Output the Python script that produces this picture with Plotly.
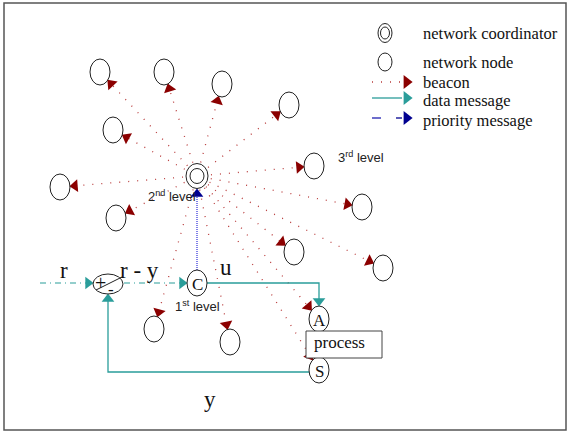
import numpy as np
import plotly.graph_objects as go

W, H = 568, 432

# ---- diagram data (pixel-like coordinates of the drawing) ----
coord_x, coord_y = 197, 176
node_x = [100, 164, 222, 289, 113, 60, 116, 314, 362, 294, 383, 154, 230]
node_y = [72, 72, 84, 105, 130, 187, 218, 166, 207, 252, 268, 329, 342]
ctrl_labels = ["C", "A", "S"]
ctrl_x = [197, 319, 319]
ctrl_y = [283, 319, 370]
junction_x, junction_y = 108, 284
process_box = [306, 331, 382, 358]
beacon_targets_x = node_x + ctrl_x[1:]
beacon_targets_y = node_y + ctrl_y[1:]

legend_labels = ["network coordinator", "network node", "beacon", "data message", "priority message"]
legend_y = [33, 62, 82, 100, 120]

level_labels = ["1<sup>st</sup> level", "2<sup>nd</sup> level", "3<sup>rd</sup> level"]
level_x = [173, 146, 336]
level_y = [306, 196, 157]

signal_labels = ["r", "r - y", "u", "y"]
signal_x = [64, 139, 226, 210]
signal_y = [270, 270, 267, 399]

# ---- styles ----
RED_LINE = "#b83a3a"
RED_HEAD = "#8b0000"
TEAL = "#2a9d9a"
BLUE_LINE = "#8080e8"
BLUE_HEAD = "#000090"
NODE_RX, NODE_RY = 10, 13
SERIF = "Liberation Serif"
SANS = "Liberation Sans"

fig = go.Figure()
shapes = []
annotations = []


def ellipse(cx, cy, rx, ry, color="#222", width=1):
    shapes.append(dict(type="circle", xref="x", yref="y", x0=cx - rx, x1=cx + rx,
                       y0=cy - ry, y1=cy + ry, line=dict(color=color, width=width),
                       fillcolor="rgba(0,0,0,0)"))


def head(tx, ty, ux, uy, color, size=11):
    ang = np.degrees(np.arctan2(uy, ux))
    cx, cy = tx - ux * size * 0.45, ty - uy * size * 0.45
    fig.add_trace(go.Scatter(x=[cx], y=[cy], mode="markers", hoverinfo="skip",
                             marker=dict(symbol="triangle-right", size=size, angle=ang,
                                         color=color, line=dict(width=0))))


def line(xs, ys, color, width=1, dash="solid"):
    fig.add_trace(go.Scatter(x=xs, y=ys, mode="lines", hoverinfo="skip",
                             line=dict(color=color, width=width, dash=dash)))


# beacon arrows from coordinator to every node
for tx0, ty0 in zip(beacon_targets_x, beacon_targets_y):
    dx, dy = tx0 - coord_x, ty0 - coord_y
    L = np.hypot(dx, dy)
    ux, uy = dx / L, dy / L
    t = 1 / np.sqrt((ux / NODE_RX) ** 2 + (uy / NODE_RY) ** 2)
    tx, ty = tx0 - ux * t, ty0 - uy * t
    sx, sy = coord_x + ux * 14, coord_y + uy * 14
    line([sx, tx], [sy, ty], RED_LINE, 1.3, "1px,8px")
    head(tx, ty, ux, uy, RED_HEAD)

# priority message (C -> coordinator)
line([ctrl_x[0], ctrl_x[0]], [ctrl_y[0] - NODE_RY, coord_y + 14], BLUE_LINE, 2, "1px,1px")
head(coord_x, coord_y + 13, 0, -1, BLUE_HEAD)

# data messages
line([ctrl_x[0] + NODE_RX, ctrl_x[1], ctrl_x[1]],
     [ctrl_y[0], ctrl_y[0], ctrl_y[1] - NODE_RY - 1], TEAL, 1.3)
head(ctrl_x[1], ctrl_y[1] - NODE_RY, 0, 1, TEAL)
line([ctrl_x[2] - NODE_RX, junction_x, junction_x],
     [ctrl_y[2] + 2, ctrl_y[2] + 2, junction_y + 11], TEAL, 1.3)
head(junction_x, junction_y + 10, 0, -1, TEAL)

# reference input and error (dash-dot)
line([40, junction_x - 16], [283, 283], TEAL, 1.2, "6px,4px,1px,4px")
head(junction_x - 15, 283, 1, 0, TEAL)
line([junction_x + 16, ctrl_x[0] - NODE_RX - 1], [283, 283], TEAL, 1.2, "6px,4px,1px,4px")
head(ctrl_x[0] - NODE_RX, 283, 1, 0, TEAL)

# nodes
for x, y in zip(node_x, node_y):
    ellipse(x, y, NODE_RX, NODE_RY)
ellipse(coord_x, coord_y, 11, 12.5)
ellipse(coord_x, coord_y, 7, 7.5)
for lab, x, y in zip(ctrl_labels, ctrl_x, ctrl_y):
    ellipse(x, y, NODE_RX, NODE_RY)
    annotations.append(dict(x=x, y=y + 1, text=lab, showarrow=False,
                            font=dict(family=SERIF, size=17, color="#111")))

# summing junction
ellipse(junction_x, junction_y, 15, 10)
shapes.append(dict(type="line", xref="x", yref="y", x0=junction_x - 12, y0=junction_y + 6,
                   x1=junction_x + 14, y1=junction_y - 7, line=dict(color="#222", width=1)))
annotations.append(dict(x=junction_x - 8, y=junction_y - 1, text="+", showarrow=False,
                        font=dict(family=SERIF, size=20, color="#111")))
annotations.append(dict(x=junction_x + 3, y=junction_y + 5, text="-", showarrow=False,
                        font=dict(family=SERIF, size=17, color="#111")))

# process box
shapes.append(dict(type="rect", xref="x", yref="y", x0=process_box[0], y0=process_box[1],
                   x1=process_box[2], y1=process_box[3], line=dict(color="#444", width=1),
                   fillcolor="white"))
annotations.append(dict(x=process_box[0] + 6, y=(process_box[1] + process_box[3]) / 2 - 2,
                        text="process", showarrow=False, xanchor="left",
                        font=dict(family=SERIF, size=17, color="#111")))

# level labels
for lab, x, y in zip(level_labels, level_x, level_y):
    annotations.append(dict(x=x, y=y, text=lab, showarrow=False, xanchor="left",
                            font=dict(family=SANS, size=13, color="#222")))

# signal labels
for lab, x, y in zip(signal_labels, signal_x, signal_y):
    annotations.append(dict(x=x, y=y, text=lab, showarrow=False,
                            font=dict(family=SERIF, size=23, color="#111")))

# legend
ellipse(385, legend_y[0], 7, 9.5)
ellipse(385, legend_y[0], 4.5, 6)
ellipse(385, legend_y[1], 7, 9)
line([372, 401], [legend_y[2], legend_y[2]], RED_LINE, 1.3, "1px,8px")
head(412, legend_y[2], 1, 0, RED_HEAD, 12)
line([372, 402], [legend_y[3] - 2, legend_y[3] - 2], TEAL, 1.3)
head(412, legend_y[3] - 2, 1, 0, TEAL, 12)
line([372, 381], [legend_y[4] - 2, legend_y[4] - 2], "#2020b0", 1.3)
line([396, 402], [legend_y[4] - 2, legend_y[4] - 2], BLUE_HEAD, 1.3)
head(412, legend_y[4] - 2, 1, 0, BLUE_HEAD, 12)
for lab, y in zip(legend_labels, legend_y):
    annotations.append(dict(x=421, y=y, text=lab, showarrow=False, xanchor="left",
                            font=dict(family=SERIF, size=16.5, color="#111")))

# frame
shapes.append(dict(type="rect", xref="x", yref="y", x0=4, y0=3, x1=566, y1=430,
                   line=dict(color="#555", width=1.5)))

fig.update_layout(width=W, height=H, margin=dict(l=0, r=0, t=0, b=0),
                  paper_bgcolor="white", plot_bgcolor="white", showlegend=False,
                  shapes=shapes, annotations=annotations,
                  xaxis=dict(range=[0, W], visible=False, fixedrange=True),
                  yaxis=dict(range=[H, 0], visible=False, fixedrange=True))
fig.write_html("out.html", config={"displayModeBar": False},
               post_script="document.body.style.margin='0';document.body.style.overflow='hidden';")
